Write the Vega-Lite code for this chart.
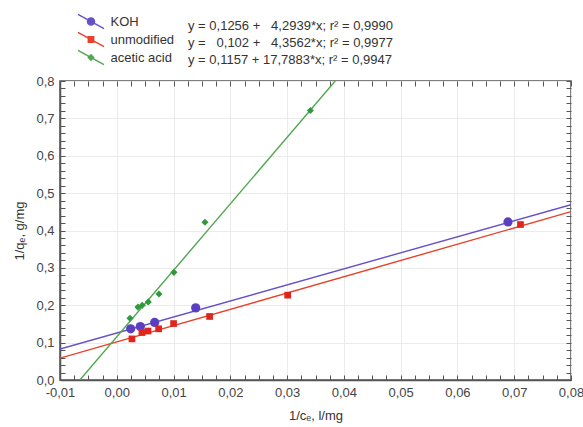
{
  "$schema": "https://vega.github.io/schema/vega-lite/v6.json",
  "width": 511,
  "height": 299,
  "autosize": {"type": "none"},
  "padding": {"left": 60, "top": 81, "right": 12, "bottom": 47},
  "background": "white",
  "title": {
    "text": ["y = 0,1256 +\u00a0\u00a0\u00a04,2939*x; r² = 0,9990", "y =\u00a0\u00a0\u00a00,102 +\u00a0\u00a0\u00a04,3562*x; r² = 0,9977", "y = 0,1157 + 17,7883*x; r² = 0,9947"],
    "anchor": "start",
    "orient": "top",
    "frame": "group",
    "dx": 128,
    "offset": -53,
    "font": "Liberation Sans",
    "fontSize": 13,
    "fontWeight": "normal",
    "color": "#333333",
    "lineHeight": 17.2
  },
  "datasets": {
    "fits": [
      {"series": "KOH", "x": -0.01, "y": 0.0827},
      {"series": "KOH", "x": 0.08, "y": 0.4691},
      {"series": "unmodified", "x": -0.01, "y": 0.0584},
      {"series": "unmodified", "x": 0.08, "y": 0.4505},
      {"series": "acetic acid", "x": -0.0065, "y": 0.0},
      {"series": "acetic acid", "x": 0.03847, "y": 0.8}
    ],
    "obs": [
      {"series": "KOH", "x": 0.00245, "y": 0.137},
      {"series": "KOH", "x": 0.00414, "y": 0.143},
      {"series": "KOH", "x": 0.00667, "y": 0.154},
      {"series": "KOH", "x": 0.0139, "y": 0.193},
      {"series": "KOH", "x": 0.0689, "y": 0.423},
      {"series": "unmodified", "x": 0.00267, "y": 0.110},
      {"series": "unmodified", "x": 0.00443, "y": 0.127},
      {"series": "unmodified", "x": 0.0055, "y": 0.131},
      {"series": "unmodified", "x": 0.00737, "y": 0.137},
      {"series": "unmodified", "x": 0.0100, "y": 0.151},
      {"series": "unmodified", "x": 0.01635, "y": 0.170},
      {"series": "unmodified", "x": 0.0301, "y": 0.227},
      {"series": "unmodified", "x": 0.0711, "y": 0.416},
      {"series": "acetic acid", "x": 0.00232, "y": 0.165},
      {"series": "acetic acid", "x": 0.00373, "y": 0.195},
      {"series": "acetic acid", "x": 0.00449, "y": 0.200},
      {"series": "acetic acid", "x": 0.00555, "y": 0.209},
      {"series": "acetic acid", "x": 0.00743, "y": 0.230},
      {"series": "acetic acid", "x": 0.01007, "y": 0.288},
      {"series": "acetic acid", "x": 0.01553, "y": 0.422},
      {"series": "acetic acid", "x": 0.0341, "y": 0.721}
    ]
  },
  "resolve": {"axis": {"x": "independent", "y": "independent"}},
  "layer": [
    {
      "data": {"name": "fits"},
      "mark": {"type": "line", "strokeWidth": 1.4, "clip": true},
      "encoding": {
        "x": {
          "field": "x", "type": "quantitative",
          "scale": {"domain": [-0.01, 0.08], "nice": false, "zero": false},
          "axis": {
            "orient": "bottom",
            "title": "1/cₑ, l/mg",
            "values": [-0.01,-0.0075,-0.005,-0.0025,0,0.0025,0.005,0.0075,0.01,0.0125,0.015,0.0175,0.02,0.0225,0.025,0.0275,0.03,0.0325,0.035,0.0375,0.04,0.0425,0.045,0.0475,0.05,0.0525,0.055,0.0575,0.06,0.0625,0.065,0.0675,0.07,0.0725,0.075,0.0775,0.08],
            "labelExpr": "abs(datum.value*100 - round(datum.value*100)) < 0.001 ? ((datum.value < -0.0001 ? '-' : '') + replace(format(abs(datum.value), '.2f'), '.', ',')) : ''",
            "gridOpacity": {"condition": {"test": "abs(datum.value*100 - round(datum.value*100)) < 0.001", "value": 1}, "value": 0},
            "grid": true,
            "labelFlush": false,
            "labelOverlap": false,
            "titlePadding": 10,
            "encoding": {"ticks": {"y2": {"signal": "abs(datum.value*100 - round(datum.value*100)) < 0.001 ? -5 : -3"}}}
          }
        },
        "y": {
          "field": "y", "type": "quantitative",
          "scale": {"domain": [0, 0.8], "nice": false},
          "axis": {
            "orient": "left",
            "title": "1/qₑ, g/mg",
            "values": [0,0.02,0.04,0.06,0.08,0.1,0.12,0.14,0.16,0.18,0.2,0.22,0.24,0.26,0.28,0.3,0.32,0.34,0.36,0.38,0.4,0.42,0.44,0.46,0.48,0.5,0.52,0.54,0.56,0.58,0.6,0.62,0.64,0.66,0.68,0.7,0.72,0.74,0.76,0.78,0.8],
            "labelExpr": "abs(datum.value*10 - round(datum.value*10)) < 0.001 ? replace(format(datum.value, '.1f'), '.', ',') : ''",
            "gridOpacity": {"condition": {"test": "abs(datum.value*10 - round(datum.value*10)) < 0.001", "value": 1}, "value": 0},
            "grid": true,
            "labelOverlap": false,
            "labelFlush": false,
            "titlePadding": 9,
            "encoding": {"ticks": {"x2": {"signal": "abs(datum.value*10 - round(datum.value*10)) < 0.001 ? 5 : 3"}}}
          }
        },
        "color": {
          "field": "series", "type": "nominal",
          "scale": {"domain": ["KOH", "unmodified", "acetic acid"], "range": ["#6650c8", "#e8402a", "#4fa84f"]},
          "legend": {
            "orient": "none",
            "legendX": 23.5,
            "legendY": -67,
            "title": null,
            "symbolType": "M-2,-1.1L2,1.1",
            "symbolSize": 169,
            "symbolStrokeWidth": 1.4,
            "labelFont": "Liberation Sans",
            "labelFontSize": 13,
            "labelColor": "#333333",
            "labelOffset": 12,
            "rowPadding": -6.3,
            "padding": 0,
            "encoding": {
              "symbols": {
                "shape": {"value": {"signal": "datum.value === 'KOH' ? 'M-2,-1.1L2,1.1M0.55,0A0.55,0.55,0,1,1,-0.55,0A0.55,0.55,0,1,1,0.55,0Z' : datum.value === 'unmodified' ? 'M-2,-1.1L2,1.1M-0.42,-0.42H0.42V0.42H-0.42Z' : 'M-2,-1.1L2,1.1M0,-0.42L0.42,0L0,0.42L-0.42,0Z'"}},
                "fill": {"value": {"signal": "scale('color', datum.value)"}},
                "fillOpacity": {"value": 1}
              }
            }
          }
        },
        "detail": {"field": "series"}
      }
    },
    {
      "data": {"name": "obs"},
      "transform": [{"filter": "datum.series === 'KOH'"}],
      "mark": {"type": "point", "filled": true, "opacity": 1, "shape": "circle", "size": 85, "color": "#5a3fc0"},
      "encoding": {
        "x": {
          "field": "x", "type": "quantitative",
          "axis": {
            "orient": "top",
            "title": null,
            "labels": false,
            "domain": false,
            "grid": false,
            "values": [-0.01,-0.0075,-0.005,-0.0025,0,0.0025,0.005,0.0075,0.01,0.0125,0.015,0.0175,0.02,0.0225,0.025,0.0275,0.03,0.0325,0.035,0.0375,0.04,0.0425,0.045,0.0475,0.05,0.0525,0.055,0.0575,0.06,0.0625,0.065,0.0675,0.07,0.0725,0.075,0.0775,0.08],
            "encoding": {"ticks": {"y2": {"signal": "abs(datum.value*100 - round(datum.value*100)) < 0.001 ? 5 : 3"}}}
          }
        },
        "y": {
          "field": "y", "type": "quantitative",
          "axis": {
            "orient": "right",
            "title": null,
            "labels": false,
            "domain": false,
            "grid": false,
            "values": [0,0.02,0.04,0.06,0.08,0.1,0.12,0.14,0.16,0.18,0.2,0.22,0.24,0.26,0.28,0.3,0.32,0.34,0.36,0.38,0.4,0.42,0.44,0.46,0.48,0.5,0.52,0.54,0.56,0.58,0.6,0.62,0.64,0.66,0.68,0.7,0.72,0.74,0.76,0.78,0.8],
            "encoding": {"ticks": {"x2": {"signal": "abs(datum.value*10 - round(datum.value*10)) < 0.001 ? -5 : -3"}}}
          }
        }
      }
    },
    {
      "data": {"name": "obs"},
      "transform": [{"filter": "datum.series === 'unmodified'"}],
      "mark": {"type": "point", "filled": true, "opacity": 1, "shape": "square", "size": 45, "color": "#e0261c"},
      "encoding": {
        "x": {"field": "x", "type": "quantitative", "axis": null},
        "y": {"field": "y", "type": "quantitative", "axis": null}
      }
    },
    {
      "data": {"name": "obs"},
      "transform": [{"filter": "datum.series === 'acetic acid'"}],
      "mark": {"type": "point", "filled": true, "opacity": 1, "shape": "diamond", "size": 50, "color": "#2f9a3c"},
      "encoding": {
        "x": {"field": "x", "type": "quantitative", "axis": null},
        "y": {"field": "y", "type": "quantitative", "axis": null}
      }
    }
  ],
  "config": {
    "view": {"stroke": "#555555", "strokeWidth": 1.5},
    "axis": {
      "labelFont": "Liberation Sans",
      "labelFontSize": 13,
      "labelColor": "#444444",
      "titleFont": "Liberation Sans",
      "titleFontSize": 13,
      "titleFontWeight": "normal",
      "titleColor": "#333333",
      "domainColor": "#555555",
      "domainWidth": 1.5,
      "tickColor": "#555555",
      "tickSize": -5,
      "tickWidth": 1,
      "labelPadding": 11,
      "gridColor": "#ebebeb",
      "gridWidth": 1
    }
  }
}
